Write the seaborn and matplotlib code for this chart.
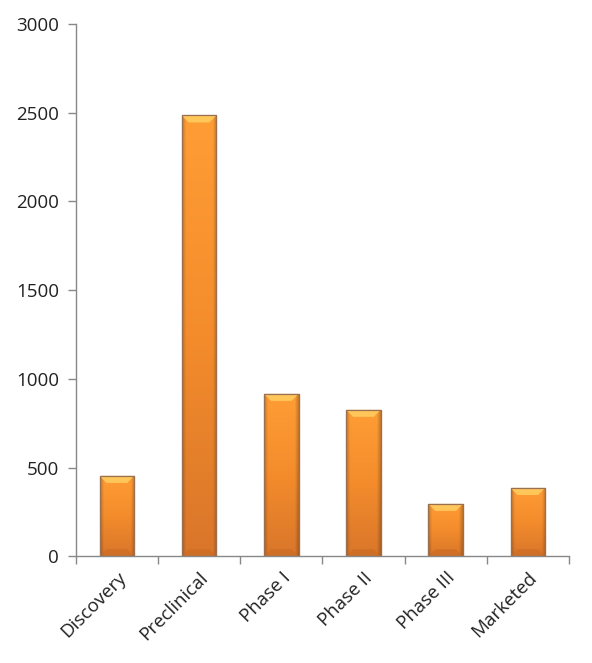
import numpy as np
import pandas as pd
import matplotlib
matplotlib.use("Agg")
import matplotlib.pyplot as plt
import seaborn as sns
from matplotlib.colors import LinearSegmentedColormap

categories = ["Discovery", "Preclinical", "Phase I", "Phase II", "Phase III", "Marketed"]
values = [453, 2484, 915, 825, 295, 385]
yticks = [0, 500, 1000, 1500, 2000, 2500, 3000]

sns.set_theme(style="white")
plt.rcParams['font.family'] = ['Open Sans', 'DejaVu Sans']

df = pd.DataFrame({"stage": categories, "count": values})

fig = plt.figure(figsize=(5.92, 6.63), dpi=100)
ax = fig.add_axes([0.128, 0.161, 0.833, 0.803])
sns.barplot(data=df, x="stage", y="count", color="#F08A2A", width=0.42, ax=ax,
            edgecolor="#9A5A22", linewidth=0.8, saturation=1)

ax.set_ylim(0, 3000)
ax.set_xlim(-0.5, len(categories) - 0.5)
ax.set_yticks(yticks)
ax.set_yticklabels([str(t) for t in yticks], fontsize=13.5, color="#222222")
ax.set_xlabel("")
ax.set_ylabel("")

px = 3000 / 532.0  # data units per pixel
cmap_v = LinearSegmentedColormap.from_list("o", ["#FF9D35", "#F48C2C", "#D9762A"])
ny, nx = 200, 50
yy = np.linspace(0, 1, ny)[:, None]
xx = np.linspace(-1, 1, nx)[None, :]
for p in ax.patches[:]:
    x0, y0 = p.get_x(), p.get_y()
    w, h = p.get_width(), p.get_height()
    base = cmap_v(np.repeat(yy, nx, axis=1))[..., :3]
    shade = 1 - 0.22 * np.clip((np.abs(xx) - 0.78) / 0.22, 0, 1)
    img = base * shade[..., None]
    im = ax.imshow(img, extent=[x0, x0 + w, y0, y0 + h], aspect="auto",
                   zorder=p.get_zorder() + 0.1, interpolation="bilinear")
    im.set_clip_path(p)
    bh = 7 * px
    poly = plt.Polygon([[x0, y0 + h], [x0 + w, y0 + h], [x0 + w * 0.80, y0 + h - bh],
                        [x0 + w * 0.20, y0 + h - bh]], closed=True,
                       facecolor="#FFC75A", edgecolor="none", zorder=p.get_zorder() + 0.2)
    ax.add_patch(poly)
    poly2 = plt.Polygon([[x0, y0], [x0 + w, y0], [x0 + w * 0.80, y0 + bh],
                         [x0 + w * 0.20, y0 + bh]], closed=True,
                        facecolor="#C96A22", edgecolor="none", alpha=0.6,
                        zorder=p.get_zorder() + 0.2)
    ax.add_patch(poly2)
    outline = plt.Rectangle((x0, y0), w, h, fill=False, edgecolor="#9A7050",
                            linewidth=0.9, zorder=p.get_zorder() + 0.3)
    ax.add_patch(outline)

ax.set_xticks(range(len(categories)))
ax.set_xticklabels(categories, rotation=45, ha="right", rotation_mode="anchor",
                   fontsize=13.5, color="#222222")
ax.set_xticks(np.arange(-0.5, len(categories), 1), minor=True)
ax.tick_params(axis="x", which="major", length=0, pad=9)
ax.tick_params(axis="x", which="minor", length=6, width=1, color="#888888", direction="out", bottom=True)
ax.tick_params(axis="y", length=6, width=1, color="#888888", direction="out", left=True, pad=6)

for s in ["top", "right"]:
    ax.spines[s].set_visible(False)
for s in ["left", "bottom"]:
    ax.spines[s].set_color("#888888")
    ax.spines[s].set_linewidth(1)

fig.savefig("out.png", dpi=100, facecolor="white")
